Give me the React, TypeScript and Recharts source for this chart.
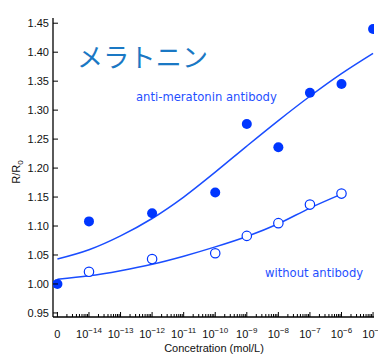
import React from 'react';
import { ComposedChart, Line, Scatter, XAxis, YAxis } from 'recharts';

// log10 concentration ("0" drawn at the -15 position)
const withLogConc = [-15, -14, -12, -10, -9, -8, -7, -6, -5];
const withAntibody = [1.0, 1.108, 1.122, 1.158, 1.276, 1.236, 1.33, 1.345, 1.44];
const withoutLogConc = [-14, -12, -10, -9, -8, -7, -6];
const withoutAntibody = [1.021, 1.043, 1.053, 1.083, 1.105, 1.137, 1.156];

const fitWithX = [-15, -14, -13, -12, -11, -10, -9, -8, -7, -6, -5];
const fitWithY = [1.043, 1.059, 1.083, 1.113, 1.15, 1.193, 1.238, 1.282, 1.324, 1.363, 1.398];
const fitWithoutX = [-15, -14, -13, -12, -11, -10, -9, -8, -7, -6];
const fitWithoutY = [1.008, 1.014, 1.023, 1.034, 1.048, 1.064, 1.082, 1.104, 1.131, 1.155];

const majorTicks = [-15, -14, -13, -12, -11, -10, -9, -8, -7, -6, -5];
const xTickLabels = ['0', '-14', '-13', '-12', '-11', '-10', '-9', '-8', '-7', '-6', '-5'];
const minorSteps = [2, 3, 4, 5, 6, 7, 8, 9];
const yTicks = [0.95, 1.0, 1.05, 1.1, 1.15, 1.2, 1.25, 1.3, 1.35, 1.4, 1.45];

const xTicksAll: number[] = [];
majorTicks.forEach((d, i) => {
  xTicksAll.push(d);
  if (i < majorTicks.length - 1) minorSteps.forEach((k) => xTicksAll.push(d + Math.log10(k)));
});

const withData = withLogConc.map((x, i) => ({ x, y: withAntibody[i] }));
const withoutData = withoutLogConc.map((x, i) => ({ x, y: withoutAntibody[i] }));
const fitWithData = fitWithX.map((x, i) => ({ x, y: fitWithY[i] }));
const fitWithoutData = fitWithoutX.map((x, i) => ({ x, y: fitWithoutY[i] }));

const X_DOMAIN: [number, number] = [-15.14, -4.97];
const Y_DOMAIN: [number, number] = [0.943, 1.459];
const FONT = '"Liberation Sans", Arial, sans-serif';
const DOT = '#0036ff';
const LINE = '#1a4dff';

const isMajor = (v: number) => Math.abs(v - Math.round(v)) < 1e-6;

const BottomTick = (props: any) => {
  const { x, y, payload } = props;
  const v = payload.value as number;
  const major = isMajor(v);
  const idx = majorTicks.indexOf(Math.round(v));
  const lab = major ? xTickLabels[idx] : '';
  return (
    <g>
      <line x1={x} x2={x} y1={y} y2={y - (major ? 5 : 3)} stroke="#000" strokeWidth={1} />
      {major && (
        lab === '0' ? (
          <text x={x} y={y + 21} textAnchor="middle" fontSize={11} fontFamily={FONT} fill="#111">0</text>
        ) : (
          <text x={x} y={y + 21} textAnchor="middle" fontSize={11} fontFamily={FONT} fill="#111">
            <tspan>10</tspan>
            <tspan dy={-5} fontSize={8}>{'\u2212' + lab.slice(1)}</tspan>
          </text>
        )
      )}
    </g>
  );
};

const TopTick = (props: any) => {
  const { x, y, payload } = props;
  const major = isMajor(payload.value);
  return <line x1={x} x2={x} y1={y} y2={y + (major ? 5 : 3)} stroke="#000" strokeWidth={1} />;
};

const LeftTick = (props: any) => {
  const { x, y, payload } = props;
  return (
    <g>
      <line x1={x} x2={x + 5} y1={y} y2={y} stroke="#000" strokeWidth={1} />
      <text x={x - 4} y={y + 4} textAnchor="end" fontSize={11} fontFamily={FONT} fill="#111">
        {(payload.value as number).toFixed(2)}
      </text>
    </g>
  );
};

const RightTick = (props: any) => {
  const { x, y } = props;
  return <line x1={x} x2={x - 5} y1={y} y2={y} stroke="#000" strokeWidth={1} />;
};

const FilledDot = (p: any) => <circle cx={p.cx} cy={p.cy} r={5} fill={DOT} />;
const OpenDot = (p: any) => <circle cx={p.cx} cy={p.cy} r={4.7} fill="#fff" stroke={DOT} strokeWidth={1.2} />;

export default function App() {
  return (
    <div style={{ position: 'absolute', left: 0, top: 0, width: 378, height: 356 }}>
      <ComposedChart width={378} height={356} margin={{ top: 18, right: 4, bottom: 0, left: 0 }}>
        <XAxis
          xAxisId="b"
          dataKey="x"
          type="number"
          domain={X_DOMAIN}
          ticks={xTicksAll}
          interval={0}
          allowDataOverflow
          height={39}
          tickSize={0}
          tickMargin={0}
          tickLine={false}
          tick={<BottomTick />}
          axisLine={{ stroke: '#000', strokeWidth: 1.3 }}
        />
        <XAxis
          xAxisId="t"
          orientation="top"
          dataKey="x"
          type="number"
          domain={X_DOMAIN}
          ticks={xTicksAll}
          interval={0}
          allowDataOverflow
          height={0}
          tickSize={0}
          tickMargin={0}
          tickLine={false}
          tick={<TopTick />}
          axisLine={{ stroke: '#000', strokeWidth: 1.3 }}
        />
        <YAxis
          yAxisId="l"
          type="number"
          domain={Y_DOMAIN}
          ticks={yTicks}
          interval={0}
          allowDataOverflow
          width={53}
          tickSize={0}
          tickMargin={0}
          tickLine={false}
          tick={<LeftTick />}
          axisLine={{ stroke: '#000', strokeWidth: 1.3 }}
        />
        <YAxis
          yAxisId="r"
          orientation="right"
          type="number"
          domain={Y_DOMAIN}
          ticks={yTicks}
          interval={0}
          allowDataOverflow
          width={0}
          tickSize={0}
          tickMargin={0}
          tickLine={false}
          tick={<RightTick />}
          axisLine={{ stroke: '#000', strokeWidth: 1.3 }}
        />
        <Line
          xAxisId="b"
          yAxisId="l"
          data={fitWithData}
          dataKey="y"
          type="monotone"
          stroke={LINE}
          strokeWidth={1.5}
          dot={false}
          isAnimationActive={false}
        />
        <Line
          xAxisId="b"
          yAxisId="l"
          data={fitWithoutData}
          dataKey="y"
          type="monotone"
          stroke={LINE}
          strokeWidth={1.5}
          dot={false}
          isAnimationActive={false}
        />
        <Scatter xAxisId="b" yAxisId="l" data={withoutData} dataKey="y" shape={<OpenDot />} isAnimationActive={false} />
        <Scatter xAxisId="b" yAxisId="l" data={withData} dataKey="y" shape={<FilledDot />} isAnimationActive={false} />
      </ComposedChart>
      <svg width={378} height={356} style={{ position: 'absolute', left: 0, top: 0, pointerEvents: 'none' }}>
        <text x={77} y={67} fontSize={26} fontFamily={'"Noto Sans CJK JP", sans-serif'} fill="#1a78c4" textLength={131}>
          メラトニン
        </text>
        <text x={136} y={101} fontSize={11.6} fontFamily={'"DejaVu Sans", sans-serif'} fill="#1f4fff">
          anti-meratonin antibody
        </text>
        <text x={265} y={277} fontSize={11.6} fontFamily={'"DejaVu Sans", sans-serif'} fill="#1f4fff">
          without antibody
        </text>
        <text x={214} y={352} textAnchor="middle" fontSize={11} fontFamily={FONT} fill="#111">
          Concetration (mol/L)
        </text>
        <text transform="translate(20,172) rotate(-90)" textAnchor="middle" fontSize={11} fontFamily={FONT} fill="#111">
          <tspan>R/R</tspan>
          <tspan dy={3} fontSize={8}>0</tspan>
        </text>
      </svg>
    </div>
  );
}
